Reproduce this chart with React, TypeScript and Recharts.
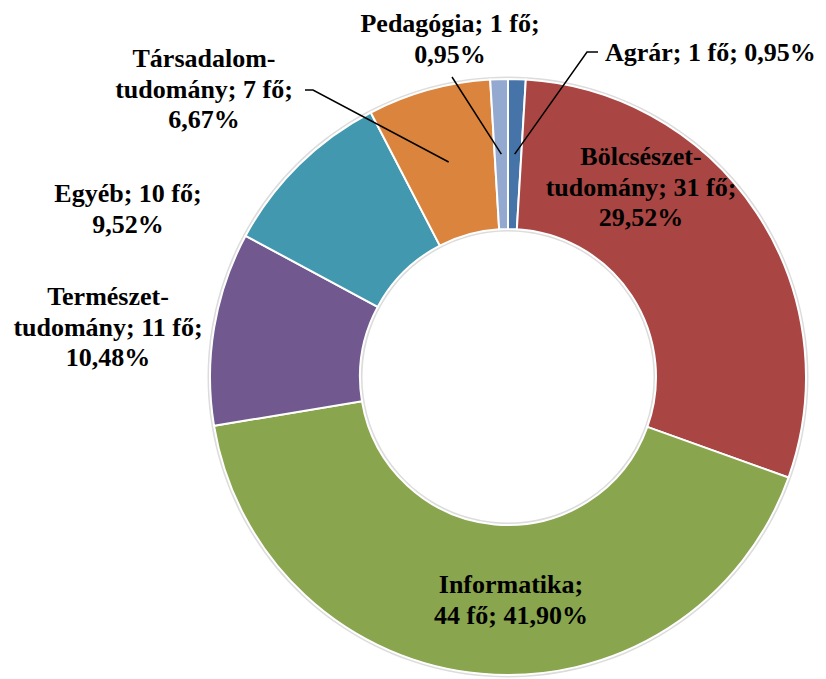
import { PieChart, Pie, Cell } from 'recharts'

const NEVEK = ['Agrár', 'Bölcsészet-tudomány', 'Informatika', 'Természet-tudomány', 'Egyéb', 'Társadalom-tudomány', 'Pedagógia']
const FOK = [1, 31, 44, 11, 10, 7, 1]
const SZINEK = ['#4674A9', '#A94643', '#89A54E', '#71588F', '#4298AF', '#DB843D', '#93A9CF']
// hol törjön a címke: 'one' = egy sor, 'pct' = százalék előtt, 'count' = fő előtt
const TORES = ['one', 'pct', 'count', 'pct', 'pct', 'pct', 'pct']

const OSSZ = FOK.reduce((a, b) => a + b, 0)
const data = NEVEK.map((nev, i) => ({ nev, fo: FOK[i] }))
const arnyek = [{ nev: 'össz', fo: OSSZ }]

// címkék helye a középponthoz képest (első sor alapvonala), vezetővonal töréspontjai
const CIMKE_POS: { dx: number; dy: number; anchor: 'start' | 'middle'; vonal?: [number, number][] }[] = [
  { dx: 97, dy: -316, anchor: 'start', vonal: [[79, -325], [90, -325]] },
  { dx: 133, dy: -212, anchor: 'middle' },
  { dx: 3, dy: 216, anchor: 'middle' },
  { dx: -400, dy: -72, anchor: 'middle' },
  { dx: -380, dy: -175, anchor: 'middle' },
  { dx: -304, dy: -310, anchor: 'middle', vonal: [[-195, -287], [-203, -287]] },
  { dx: -58, dy: -345, anchor: 'middle', vonal: [[-56, -300]] },
]

const RAD = Math.PI / 180
const SOR = 30.5
const BETU = 'Liberation Serif, DejaVu Serif, serif'

function sorok(i: number) {
  const pct = ((FOK[i] / OSSZ) * 100).toFixed(2).replace('.', ',') + '%'
  const nev = NEVEK[i]
  const fo = `${FOK[i]} fő`
  if (TORES[i] === 'one') return [`${nev}; ${fo}; ${pct}`]
  if (TORES[i] === 'count') return [`${nev};`, `${fo}; ${pct}`]
  if (nev.includes('-')) {
    const [a, b] = nev.split('-')
    return [`${a}-`, `${b}; ${fo};`, pct]
  }
  return [`${nev}; ${fo};`, pct]
}

function renderCimke(props: any) {
  const { cx, cy, midAngle, innerRadius, outerRadius, index } = props
  const p = CIMKE_POS[index]
  const lines = sorok(index)
  const x = cx + p.dx
  const y = cy + p.dy
  let path = null
  if (p.vonal) {
    const r = (innerRadius + outerRadius) / 2
    const sx = cx + r * Math.cos(-midAngle * RAD)
    const sy = cy + r * Math.sin(-midAngle * RAD)
    const pts = [[sx, sy], ...p.vonal.map(([a, b]) => [cx + a, cy + b])]
    path = <polyline points={pts.map((q) => q.join(',')).join(' ')} fill="none" stroke="#000" strokeWidth={1.5} />
  }
  return (
    <g key={`l-${index}`}>
      {path}
      <text x={x} y={y} textAnchor={p.anchor} fill="#000" style={{ fontFamily: BETU, fontWeight: 700, fontSize: 26 }}>
        {lines.map((s, k) => (
          <tspan key={k} x={x} dy={k === 0 ? 0 : SOR}>{s}</tspan>
        ))}
      </text>
    </g>
  )
}

export default function App() {
  return (
    <div style={{ position: 'absolute', left: 0, top: 0, width: 826, height: 679, background: '#fff' }}>
      <PieChart width={826} height={679} margin={{ top: 0, right: 0, bottom: 0, left: 0 }}>
        <Pie
          data={arnyek}
          dataKey="fo"
          cx={508}
          cy={377}
          innerRadius={145.5}
          outerRadius={300.5}
          fill="#dcdcdc"
          stroke="none"
          isAnimationActive={false}
        />
        <Pie
          data={data}
          dataKey="fo"
          nameKey="nev"
          cx={508}
          cy={377}
          innerRadius={148}
          outerRadius={298}
          startAngle={90}
          endAngle={-270}
          stroke="#fff"
          strokeWidth={2}
          label={renderCimke}
          labelLine={false}
          isAnimationActive={false}
        >
          {data.map((d, i) => (
            <Cell key={d.nev} fill={SZINEK[i]} />
          ))}
        </Pie>
      </PieChart>
    </div>
  )
}
